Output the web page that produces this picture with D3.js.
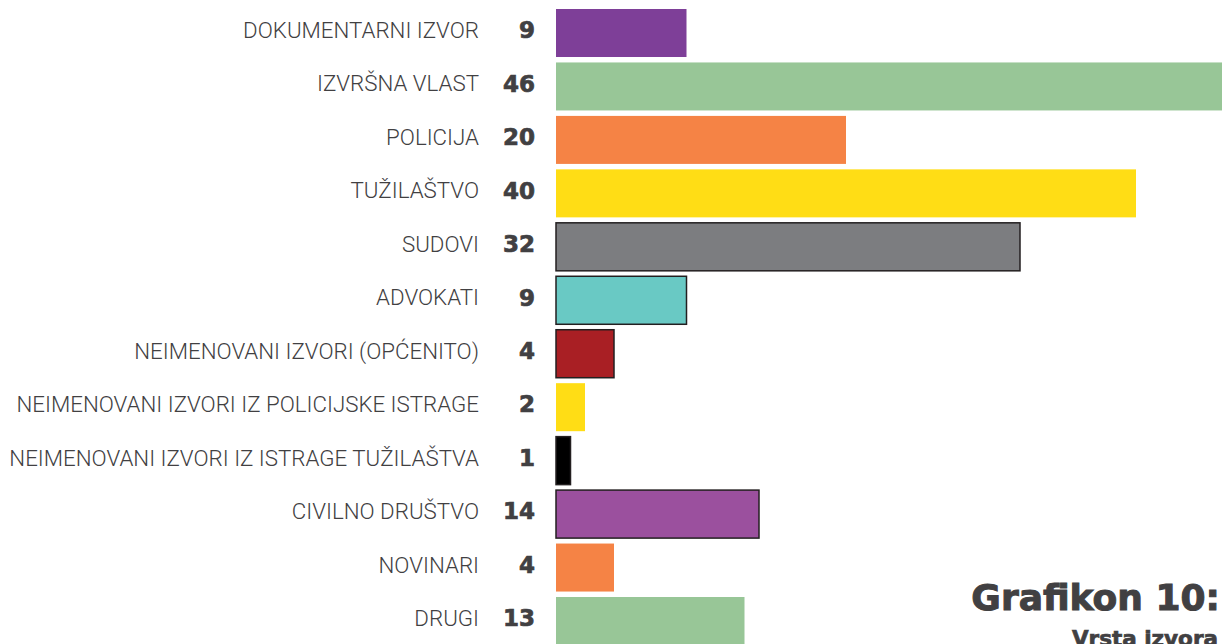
<!DOCTYPE html>
<html>
<head>
<meta charset="utf-8">
<script src="https://cdn.jsdelivr.net/npm/d3@7"></script>
<style>
  body { margin: 0; background: #fff; overflow: hidden; }
  .lbl { font-family: Roboto, sans-serif; font-weight: 300; font-size: 22.3px; fill: #414042; }
  .val { font-family: "DejaVu Sans", sans-serif; font-weight: bold; font-size: 23px; fill: #414042; stroke: #414042; stroke-width: 0.7px; }
  .ttl { font-family: "DejaVu Sans", sans-serif; font-weight: bold; fill: #414042; stroke: #414042; stroke-width: 1px; }
</style>
</head>
<body>
<svg id="chart" width="1222" height="644"></svg>
<script>
// 카테고리 / 값 / 색
const categories = [
  "DOKUMENTARNI IZVOR", "IZVRŠNA VLAST", "POLICIJA", "TUŽILAŠTVO", "SUDOVI", "ADVOKATI",
  "NEIMENOVANI IZVORI (OPĆENITO)", "NEIMENOVANI IZVORI IZ POLICIJSKE ISTRAGE",
  "NEIMENOVANI IZVORI IZ ISTRAGE TUŽILAŠTVA", "CIVILNO DRUŠTVO", "NOVINARI", "DRUGI"
];
const values = [9, 46, 20, 40, 32, 9, 4, 2, 1, 14, 4, 13];
const barColors = ["#7e3f98", "#98c697", "#f58345", "#ffdd15", "#7c7d80", "#69c9c4",
                   "#a91f24", "#ffdd15", "#000000", "#9b509e", "#f58345", "#98c697"];
const outlined = [false, false, false, false, true, true, true, false, true, true, false, false];
const titleText = "Grafikon 10:";
const subtitleText = "Vrsta izvora";

const svg = d3.select("#chart");

const y = d3.scaleBand().domain(categories).range([9, 645]).paddingInner(0.102).paddingOuter(0);
const x = d3.scaleLinear().domain([0, 46]).range([556, 1223]);

const rows = categories.map((c, i) => ({ c, v: values[i], col: barColors[i], out: outlined[i] }));
const midY = d => y(d.c) + y.bandwidth() / 2 - 3;

// 막대
svg.selectAll("rect.bar").data(rows).join("rect")
  .attr("class", "bar")
  .attr("x", x(0))
  .attr("y", d => y(d.c))
  .attr("width", d => x(d.v) - x(0))
  .attr("height", y.bandwidth())
  .attr("fill", d => d.col)
  .attr("stroke", d => d.out ? "#231f20" : "none")
  .attr("stroke-width", 1.5);

// 라벨
svg.selectAll("text.lbl").data(rows).join("text")
  .attr("class", "lbl")
  .attr("x", 479)
  .attr("y", midY)
  .attr("dy", "0.36em")
  .attr("text-anchor", "end")
  .text(d => d.c);

// 값
svg.selectAll("text.val").data(rows).join("text")
  .attr("class", "val")
  .attr("x", 535)
  .attr("y", midY)
  .attr("dy", "0.36em")
  .attr("text-anchor", "end")
  .text(d => d.v);

// 제목
svg.append("text").attr("class", "ttl")
  .attr("x", 1220).attr("y", 610)
  .attr("text-anchor", "end")
  .style("font-size", "36px")
  .text(titleText);
svg.append("text").attr("class", "ttl")
  .attr("x", 1218).attr("y", 646)
  .attr("text-anchor", "end")
  .style("font-size", "21.5px")
  .style("stroke-width", "0.7px")
  .text(subtitleText);
</script>
</body>
</html>
